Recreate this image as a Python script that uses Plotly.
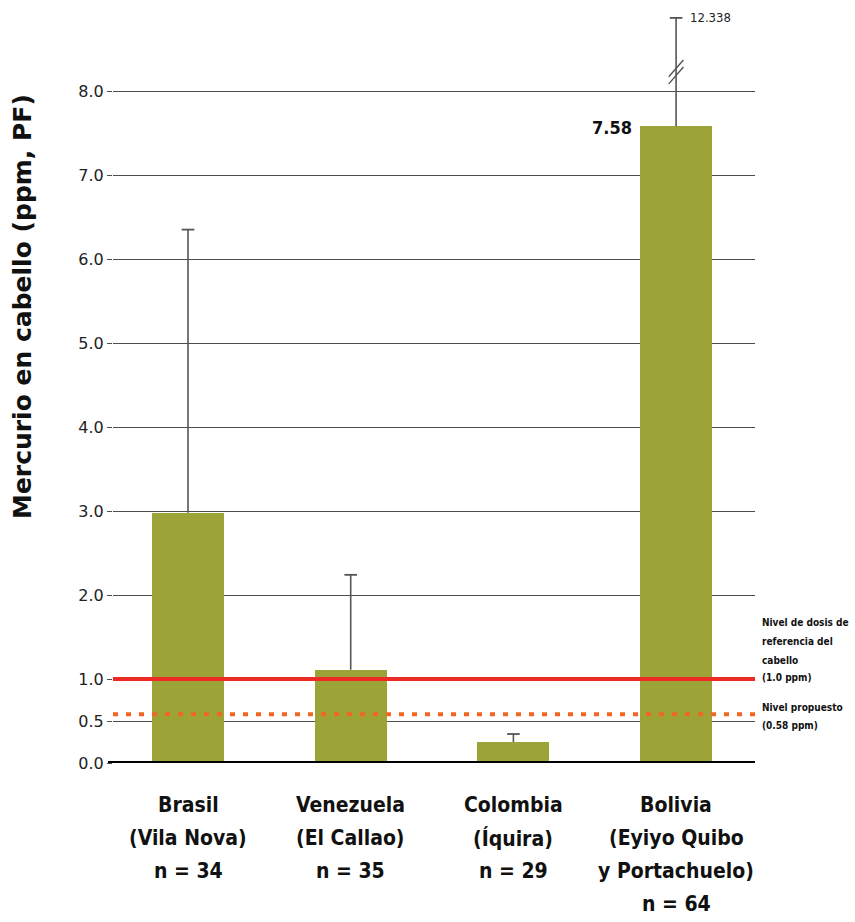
import plotly.graph_objects as go

# ---- data ----
categories = ["Brasil", "Venezuela", "Colombia", "Bolivia"]
category_lines = [
    ["Brasil", "(Vila Nova)", "n = 34"],
    ["Venezuela", "(El Callao)", "n = 35"],
    ["Colombia", "(Íquira)", "n = 29"],
    ["Bolivia", "(Eyiyo Quibo", "y Portachuelo)", "n = 64"],
]
means = [2.98, 1.11, 0.25, 7.58]
upper_values = [6.35, 2.24, 0.345, 12.338]
axis_break_value = 8.87          # where the broken Bolivia whisker is drawn
reference_level = 1.0
proposed_level = 0.58
y_tickvals = [0, 0.5, 1, 2, 3, 4, 5, 6, 7, 8]
y_ticktext = ["0.0", "0.5", "1.0", "2.0", "3.0", "4.0", "5.0", "6.0", "7.0", "8.0"]

COND = "Liberation Sans Narrow, DejaVu Sans Condensed, Arial Narrow, sans-serif"
BAR_COLOR = "#9ca438"
GRID = "#4d4d4d"
WHISKER = "#555555"

x_pos = list(range(len(categories)))
upper_shown = [min(u, axis_break_value) for u in upper_values]

PLOT_W = 642
fig = go.Figure()
fig.add_trace(go.Bar(
    x=x_pos, y=means, width=0.4425,
    marker=dict(color=BAR_COLOR, line=dict(width=0)),
    hoverinfo="skip",
))

# upper whiskers (one-sided)
wx, wy = [], []
for x, m, u in zip(x_pos, means, upper_shown):
    wx += [x, x, None]
    wy += [m, u, None]
fig.add_trace(go.Scatter(x=wx, y=wy, mode="lines",
                         line=dict(color=WHISKER, width=1.6), hoverinfo="skip"))
fig.add_trace(go.Scatter(x=x_pos, y=upper_shown, mode="markers",
                         marker=dict(symbol="line-ew-open", size=9, color=WHISKER,
                                     line=dict(color=WHISKER, width=1.8)),
                         hoverinfo="skip"))

shapes = []
shapes.append(dict(type="line", xref="paper", yref="y", x0=-5 / PLOT_W, x1=1,
                   y0=0, y1=0, line=dict(color="#000000", width=4), layer="above"))
shapes.append(dict(type="line", xref="paper", yref="y", x0=0, x1=1,
                   y0=reference_level, y1=reference_level,
                   line=dict(color="#ee2a24", width=4), layer="above"))
shapes.append(dict(type="line", xref="paper", yref="y", x0=0, x1=1,
                   y0=proposed_level, y1=proposed_level,
                   line=dict(color="#f26522", width=4, dash="5px,8px"), layer="above"))
bx = x_pos[3]
for dy in (0.0, -0.085):
    shapes.append(dict(type="line", xref="x", yref="y",
                       x0=bx - 0.045, x1=bx + 0.045,
                       y0=8.17 + dy, y1=8.37 + dy,
                       line=dict(color=WHISKER, width=1.4), layer="above"))

annotations = []
for i, lines in enumerate(category_lines):
    for j, t in enumerate(lines):
        annotations.append(dict(x=x_pos[i], y=0, xref="x", yref="y",
                                text=f"<b>{t}</b>", showarrow=False,
                                yshift=-42 - 33 * j, yanchor="middle",
                                font=dict(family=COND, size=21, color="#111111")))

annotations.append(dict(x=x_pos[3], y=means[3], xref="x", yref="y",
                        text="<b>7.58</b>", showarrow=False, xanchor="right",
                        xshift=-42, yshift=-1, yanchor="middle",
                        font=dict(family="DejaVu Sans Condensed, DejaVu Sans", size=18, color="#111111")))
annotations.append(dict(x=x_pos[3], y=axis_break_value, xref="x", yref="y",
                        text=f"{upper_values[3]:.3f}", showarrow=False, xanchor="left",
                        xshift=12, yanchor="middle",
                        font=dict(family="DejaVu Sans Condensed, DejaVu Sans", size=13, color="#222222")))

ref_lines = ["Nivel de dosis de", "referencia del", "cabello", "(1.0 ppm)"]
ref_shifts = [57, 38, 19, 2]
for t, s in zip(ref_lines, ref_shifts):
    annotations.append(dict(x=1, y=reference_level, xref="paper", yref="y",
                            text=f"<b>{t}</b>", showarrow=False, xanchor="left",
                            xshift=5, yshift=s, yanchor="middle",
                            font=dict(family=COND, size=10, color="#111111")))
prop_lines = ["Nivel propuesto", "(0.58 ppm)"]
prop_shifts = [7, -11]
for t, s in zip(prop_lines, prop_shifts):
    annotations.append(dict(x=1, y=proposed_level, xref="paper", yref="y",
                            text=f"<b>{t}</b>", showarrow=False, xanchor="left",
                            xshift=5, yshift=s, yanchor="middle",
                            font=dict(family=COND, size=10, color="#111111")))

annotations.append(dict(x=-91 / PLOT_W, y=(763 - 307) / 756, xref="paper", yref="paper",
                        text="<b>Mercurio en cabello (ppm, PF)</b>", showarrow=False,
                        textangle=-90, xanchor="center", yanchor="middle",
                        font=dict(family="DejaVu Sans", size=25, color="#111111")))

fig.update_layout(
    width=855, height=922,
    margin=dict(l=113, r=100, t=7, b=159),
    plot_bgcolor="white", paper_bgcolor="white",
    showlegend=False, bargap=0,
    xaxis=dict(range=[-0.461, 3.485], showticklabels=False, showgrid=False,
               zeroline=False, showline=False, ticks="", fixedrange=True),
    yaxis=dict(range=[0, 9.0], tickvals=y_tickvals, ticktext=y_ticktext,
               showgrid=True, gridcolor=GRID, gridwidth=1,
               ticks="outside", ticklen=5, tickcolor=GRID, tickwidth=1,
               zeroline=False, showline=False, fixedrange=True,
               tickfont=dict(family="DejaVu Sans", size=16, color="#222222")),
    shapes=shapes, annotations=annotations,
)

fig.write_html("out.html", config={"displayModeBar": False, "staticPlot": True},
               post_script="document.body.style.margin='0';document.body.style.overflow='hidden';")
